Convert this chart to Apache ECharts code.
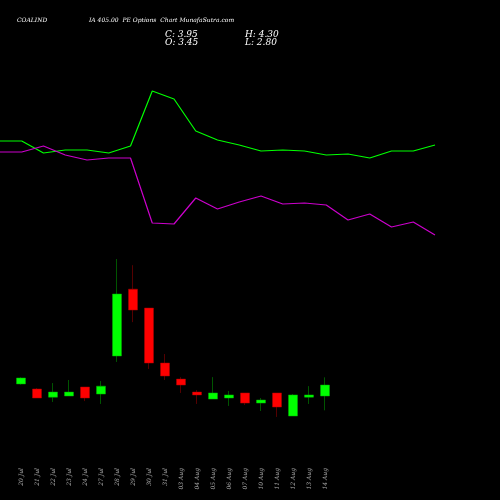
<!DOCTYPE html><html><head><script src="https://cdn.jsdelivr.net/npm/echarts@6/dist/echarts.min.js"></script>
<style>html,body{margin:0;background:#000}#c{width:500px;height:500px}</style></head><body><div id="c"></div><script>
const categories=['20 Jul','21 Jul','22 Jul','23 Jul','24 Jul','27 Jul','28 Jul','29 Jul','30 Jul','31 Jul','03 Aug','04 Aug','05 Aug','06 Aug','07 Aug','10 Aug','11 Aug','12 Aug','13 Aug','14 Aug'];
const opens=[4.0,3.77,3.40,3.45,3.86,3.54,5.27,8.31,7.45,4.95,4.22,3.63,3.31,3.36,3.59,3.13,3.59,2.54,3.40,3.45];
const closes=[4.27,3.36,3.63,3.63,3.36,3.90,8.09,7.36,4.95,4.36,3.95,3.50,3.59,3.50,3.13,3.27,2.95,3.50,3.50,3.95];
const lows=[3.97,3.36,3.18,3.45,3.22,3.09,5.0,6.81,4.68,4.18,3.59,3.09,3.31,3.0,3.04,2.77,2.5,2.54,3.09,2.80];
const highs=[4.30,3.81,4.04,4.18,3.86,4.13,9.68,9.40,7.45,5.36,4.31,3.72,4.31,3.68,3.59,3.36,3.59,3.54,3.90,4.30];
const greenLine=[61,61,73,70,70,73,66,11,19,51,60,65,71,70,71,75,74,78,71,71,65];
const magentaLine=[72,72,66,75,80,78,78,143,144,118,129,122,116,124,123,125,140,134,147,142,155];
const lineIdx=greenLine.map((_,i)=>i);
const chart=echarts.init(document.getElementById('c'));
const ser='"DejaVu Serif", serif';
chart.setOption({backgroundColor:'#000',animation:false,
title:[{text:'COALIND',left:12,top:10,textStyle:{color:'#fff',fontSize:6,fontFamily:ser,fontStyle:'italic',fontWeight:'normal'}},
{text:'IA 405.00  PE Options  Chart MunafaSutra.com',left:84,top:10,textStyle:{color:'#fff',fontSize:6,fontFamily:ser,fontStyle:'italic',fontWeight:'normal'}},
{text:'C: 3.95',left:160,top:21,textStyle:{color:'#fff',fontSize:9,fontFamily:ser,fontStyle:'italic',fontWeight:'normal'}},
{text:'O: 3.45',left:160,top:29,textStyle:{color:'#fff',fontSize:9,fontFamily:ser,fontStyle:'italic',fontWeight:'normal'}},
{text:'H: 4.30',left:240,top:21,textStyle:{color:'#fff',fontSize:9,fontFamily:ser,fontStyle:'italic',fontWeight:'normal'}},
{text:'L: 2.80',left:240,top:29,textStyle:{color:'#fff',fontSize:9,fontFamily:ser,fontStyle:'italic',fontWeight:'normal'}}],
grid:[{left:0,width:435,top:80,height:170},{left:13,width:320,top:250,height:170}],
xAxis:[{gridIndex:0,type:'category',data:lineIdx,boundaryGap:false,show:false},
{gridIndex:1,type:'category',data:categories,axisLine:{show:false},axisTick:{show:false},
axisLabel:{rotate:90,color:'#aaa',fontSize:6,fontFamily:ser,fontStyle:'italic',margin:48,interval:0}}],
yAxis:[{gridIndex:0,type:'value',min:0,max:170,inverse:true,show:false},
{gridIndex:1,type:'value',min:2.36,max:10.09,show:false}],
series:[{type:'line',xAxisIndex:0,yAxisIndex:0,data:greenLine,symbol:'none',lineStyle:{color:'#00ff00',width:1.2}},
{type:'line',xAxisIndex:0,yAxisIndex:0,data:magentaLine,symbol:'none',lineStyle:{color:'#cc00cc',width:1.2}},
{type:'candlestick',xAxisIndex:1,yAxisIndex:1,barWidth:9,
data:categories.map((_,i)=>[opens[i],closes[i],lows[i],highs[i]]),
itemStyle:{color:'#00ff00',color0:'#ff0000',borderColor:'#00aa00',borderColor0:'#aa0000',borderWidth:0.5}}]});
</script></body></html>
